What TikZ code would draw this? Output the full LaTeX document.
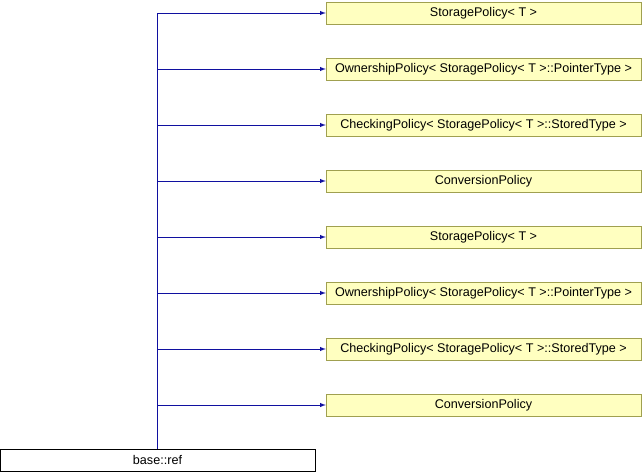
\documentclass[tikz,border=0pt]{standalone}
\usepackage{fontspec}
\setmainfont{Liberation Sans}
\definecolor{edgeblue}{RGB}{16,16,160}
\definecolor{boxfill}{RGB}{255,255,192}
\definecolor{boxline}{RGB}{160,160,80}
\begin{document}
\begin{tikzpicture}[x=1pt,y=-1pt,
    cls/.style={draw=boxline,fill=boxfill,minimum width=315pt,minimum height=22pt,inner sep=0pt,font=\fontsize{12.6}{14}\selectfont},
    base/.style={draw=black,fill=white,minimum width=315pt,minimum height=22pt,inner sep=0pt,font=\fontsize{12.6}{14}\selectfont},
    inh/.style={draw=edgeblue,line width=1pt}]
        \useasboundingbox (0,0) rectangle (642,472);
        \node[cls] at (483.5,13)  (sp1) {StoragePolicy< T >};
        \node[cls] at (483.5,69)  (op1) {OwnershipPolicy< StoragePolicy< T >::PointerType >};
        \node[cls] at (483.5,125) (cp1) {CheckingPolicy< StoragePolicy< T >::StoredType >};
        \node[cls] at (483.5,181) (cv1) {ConversionPolicy};
        \node[cls] at (483.5,237) (sp2) {StoragePolicy< T >};
        \node[cls] at (483.5,293) (op2) {OwnershipPolicy< StoragePolicy< T >::PointerType >};
        \node[cls] at (483.5,349) (cp2) {CheckingPolicy< StoragePolicy< T >::StoredType >};
        \node[cls] at (483.5,405) (cv2) {ConversionPolicy};
        \node[base] at (157.5,460) (ref) {base::ref};
        \coordinate (top) at (ref.north |- sp1);
        \draw[inh] (ref.north) -- (top);
        \draw[inh,-latex] (top) -- (sp1);
        \draw[inh,-latex] (ref.north |- op1) -- (op1);
        \draw[inh,-latex] (ref.north |- cp1) -- (cp1);
        \draw[inh,-latex] (ref.north |- cv1) -- (cv1);
        \draw[inh,-latex] (ref.north |- sp2) -- (sp2);
        \draw[inh,-latex] (ref.north |- op2) -- (op2);
        \draw[inh,-latex] (ref.north |- cp2) -- (cp2);
        \draw[inh,-latex] (ref.north |- cv2) -- (cv2);
      \end{tikzpicture}
\end{document}
